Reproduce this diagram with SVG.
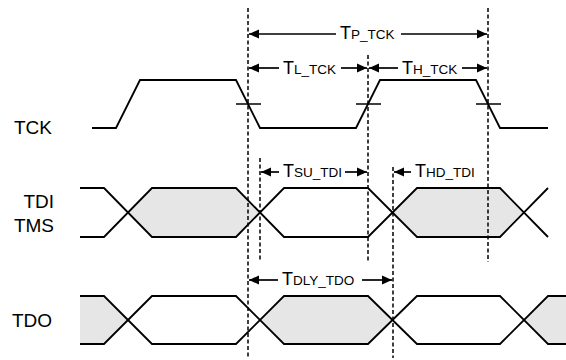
<svg xmlns="http://www.w3.org/2000/svg" width="566" height="360" viewBox="0 0 566 360">
<style>
.sig{fill:none;stroke:#000;stroke-width:1.8;stroke-linejoin:miter}
.fill{fill:#e6e6e6;stroke:none}
.dash{stroke:#000;stroke-width:1.5;stroke-dasharray:4,2.5;fill:none}
.tick{stroke:#000;stroke-width:1.5}
.arr{stroke:#000;stroke-width:1.7;fill:none}
.lbl{font-family:"Liberation Sans",Arial,sans-serif;font-size:19px;fill:#000}
.t{font-family:"Liberation Sans",Arial,sans-serif;font-size:18px;fill:#000}
.s{font-size:13.5px}
</style>
<defs>
<marker id="ah" markerUnits="userSpaceOnUse" markerWidth="11" markerHeight="10" refX="10" refY="5" orient="auto-start-reverse">
<path d="M0,0.5 L10,5 L0,9.5 z" fill="#000"/>
</marker>
</defs>
<g id="labels">
<text class="lbl" x="14" y="134">TCK</text>
<text class="lbl" x="54" y="208" text-anchor="end">TDI</text>
<text class="lbl" x="54" y="232" text-anchor="end">TMS</text>
<text class="lbl" x="12" y="327">TDO</text>
</g>
<g id="tck">
<path class="sig" d="M92,128 L116,128 L140,80 L236,80 L260,128 L356,128 L380,80 L476,80 L500,128 L548,128"/>
<line class="tick" x1="236" y1="104" x2="261" y2="104"/>
<line class="tick" x1="356" y1="104" x2="381" y2="104"/>
<line class="tick" x1="476" y1="104" x2="501" y2="104"/>
</g>
<g id="tdi">
<polygon class="fill" points="128,212.5 152,188 236,188 260,212.5 236,237 152,237"/>
<polygon class="fill" points="392.5,212.5 417,188 500,188 524,212.5 500,237 417,237"/>
<polyline class="sig" points="80,188 104,188 152,237 236,237 284,188 368,188 417,237 500,237 548,188"/>
<polyline class="sig" points="80,237 104,237 152,188 236,188 284,237 368,237 417,188 500,188 548,237"/>
</g>
<g id="tdo">
<polygon class="fill" points="80,296 104,296 128,320 104,344 80,344"/>
<polygon class="fill" points="260,320 284,296 368,296 392.5,320 368,344 284,344"/>
<polygon class="fill" points="524,320 548,296 566,296 566,344 548,344"/>
<polyline class="sig" points="80,296 104,296 152,344 236,344 284,296 368,296 417,344 500,344 548,296 566,296"/>
<polyline class="sig" points="80,344 104,344 152,296 236,296 284,344 368,344 417,296 500,296 548,344 566,344"/>
</g>
<g id="connectors">
<line class="dash" x1="248" y1="8" x2="248" y2="358"/>
<line class="dash" x1="260" y1="158" x2="260" y2="262"/>
<line class="dash" x1="368" y1="55" x2="368" y2="262"/>
<line class="dash" x1="393" y1="167" x2="393" y2="358"/>
<line class="dash" x1="488" y1="8" x2="488" y2="262"/>
<line class="arr" x1="336" y1="34" x2="249" y2="34" marker-end="url(#ah)"/>
<line class="arr" x1="401" y1="34" x2="487" y2="34" marker-end="url(#ah)"/>
<line class="arr" x1="279" y1="68" x2="249" y2="68" marker-end="url(#ah)"/>
<line class="arr" x1="341" y1="68" x2="367" y2="68" marker-end="url(#ah)"/>
<line class="arr" x1="398" y1="68" x2="369" y2="68" marker-end="url(#ah)"/>
<line class="arr" x1="462" y1="68" x2="487" y2="68" marker-end="url(#ah)"/>
<line class="arr" x1="279" y1="172" x2="261" y2="172" marker-end="url(#ah)"/>
<line class="arr" x1="345" y1="172" x2="367" y2="172" marker-end="url(#ah)"/>
<line class="arr" x1="411" y1="172" x2="394" y2="172" marker-end="url(#ah)"/>
<line class="arr" x1="278" y1="280" x2="249" y2="280" marker-end="url(#ah)"/>
<line class="arr" x1="362" y1="280" x2="392" y2="280" marker-end="url(#ah)"/>
</g>
<g id="arrow-labels">
<text class="t" x="340" y="39">T<tspan class="s">P_TCK</tspan></text>
<text class="t" x="283" y="74">T<tspan class="s">L_TCK</tspan></text>
<text class="t" x="402" y="74">T<tspan class="s">H_TCK</tspan></text>
<text class="t" x="283" y="177">T<tspan class="s">SU_TDI</tspan></text>
<text class="t" x="415" y="177">T<tspan class="s">HD_TDI</tspan></text>
<text class="t" x="282" y="285">T<tspan class="s">DLY_TDO</tspan></text>
</g>
</svg>
